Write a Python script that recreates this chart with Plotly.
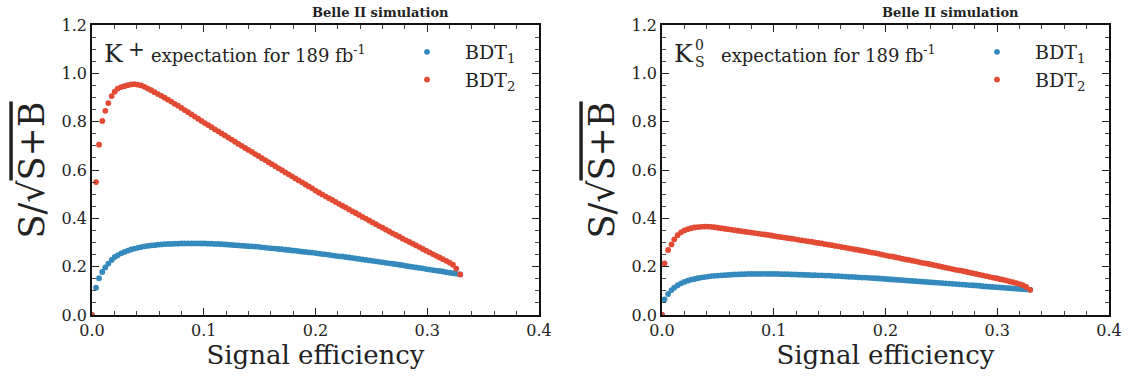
import plotly.graph_objects as go

# ---------------- data ----------------
EFF_KP = [0.0, 0.0036, 0.0063, 0.0092, 0.0119, 0.0146, 0.0176, 0.0203,
          0.023, 0.026, 0.029, 0.032, 0.035, 0.038, 0.041, 0.044, 0.047, 0.050,
          0.053, 0.056, 0.059, 0.062, 0.065, 0.068, 0.071, 0.074, 0.077, 0.080,
          0.083, 0.086, 0.089, 0.092, 0.095, 0.098, 0.101, 0.104, 0.107, 0.110,
          0.113, 0.116, 0.119, 0.122, 0.125, 0.128, 0.131, 0.134, 0.137, 0.140,
          0.143, 0.146, 0.149, 0.152, 0.155, 0.158, 0.161, 0.164, 0.167, 0.170,
          0.173, 0.176, 0.179, 0.182, 0.185, 0.188, 0.191, 0.194, 0.197, 0.200,
          0.203, 0.206, 0.209, 0.212, 0.215, 0.218, 0.221, 0.224, 0.227, 0.230,
          0.233, 0.236, 0.239, 0.242, 0.245, 0.248, 0.251, 0.254, 0.257, 0.260,
          0.263, 0.266, 0.269, 0.272, 0.275, 0.278, 0.281, 0.284, 0.287, 0.290,
          0.293, 0.296, 0.299, 0.302, 0.305, 0.308, 0.311, 0.314, 0.317, 0.320,
          0.323, 0.326, 0.3295]

KP_BDT1 = [0.0, 0.113, 0.152, 0.178, 0.197, 0.213, 0.228, 0.240,
           0.247, 0.255, 0.261, 0.266, 0.271, 0.275, 0.278, 0.281, 0.284, 0.286,
           0.288, 0.289, 0.291, 0.292, 0.293, 0.294, 0.294, 0.295, 0.295, 0.296,
           0.296, 0.296, 0.296, 0.296, 0.296, 0.296, 0.296, 0.295, 0.295, 0.294,
           0.294, 0.293, 0.292, 0.291, 0.290, 0.289, 0.288, 0.287, 0.286, 0.285,
           0.284, 0.283, 0.282, 0.280, 0.279, 0.277, 0.276, 0.275, 0.273, 0.272,
           0.270, 0.269, 0.267, 0.266, 0.264, 0.262, 0.261, 0.259, 0.258, 0.256,
           0.254, 0.252, 0.251, 0.249, 0.247, 0.245, 0.243, 0.242, 0.240, 0.238,
           0.236, 0.234, 0.232, 0.230, 0.228, 0.226, 0.224, 0.222, 0.220, 0.218,
           0.216, 0.214, 0.212, 0.210, 0.208, 0.206, 0.203, 0.201, 0.199, 0.197,
           0.195, 0.193, 0.190, 0.188, 0.186, 0.184, 0.182, 0.180, 0.177, 0.175,
           0.173, 0.171, 0.168]

KP_BDT2 = [0.0, 0.550, 0.705, 0.803, 0.845, 0.877, 0.906, 0.924,
           0.937, 0.943, 0.947, 0.951, 0.954, 0.955, 0.953, 0.950, 0.944, 0.937,
           0.930, 0.922, 0.914, 0.907, 0.899, 0.891, 0.883, 0.874, 0.866, 0.857,
           0.848, 0.839, 0.830, 0.821, 0.812, 0.803, 0.794, 0.786, 0.777, 0.768,
           0.760, 0.751, 0.743, 0.734, 0.726, 0.717, 0.708, 0.700, 0.691, 0.683,
           0.675, 0.666, 0.658, 0.649, 0.641, 0.632, 0.624, 0.616, 0.607, 0.599,
           0.590, 0.582, 0.574, 0.565, 0.557, 0.549, 0.540, 0.532, 0.524, 0.515,
           0.507, 0.499, 0.491, 0.483, 0.476, 0.468, 0.460, 0.452, 0.445, 0.437,
           0.429, 0.422, 0.414, 0.406, 0.399, 0.391, 0.383, 0.376, 0.368, 0.361,
           0.353, 0.346, 0.338, 0.331, 0.324, 0.316, 0.309, 0.302, 0.295, 0.288,
           0.281, 0.273, 0.266, 0.259, 0.252, 0.245, 0.238, 0.231, 0.224, 0.217,
           0.208, 0.192, 0.168]

EFF_KS = [0.0, 0.0023, 0.0055, 0.0085, 0.011, 0.014, 0.017, 0.020,
          0.023, 0.026, 0.029, 0.032, 0.035, 0.038, 0.041, 0.044, 0.047, 0.050,
          0.053, 0.056, 0.059, 0.062, 0.065, 0.068, 0.071, 0.074, 0.077, 0.080,
          0.083, 0.086, 0.089, 0.092, 0.095, 0.098, 0.101, 0.104, 0.107, 0.110,
          0.113, 0.116, 0.119, 0.122, 0.125, 0.128, 0.131, 0.134, 0.137, 0.140,
          0.143, 0.146, 0.149, 0.152, 0.155, 0.158, 0.161, 0.164, 0.167, 0.170,
          0.173, 0.176, 0.179, 0.182, 0.185, 0.188, 0.191, 0.194, 0.197, 0.200,
          0.203, 0.206, 0.209, 0.212, 0.215, 0.218, 0.221, 0.224, 0.227, 0.230,
          0.233, 0.236, 0.239, 0.242, 0.245, 0.248, 0.251, 0.254, 0.257, 0.260,
          0.263, 0.266, 0.269, 0.272, 0.275, 0.278, 0.281, 0.284, 0.287, 0.290,
          0.293, 0.296, 0.299, 0.302, 0.305, 0.308, 0.311, 0.314, 0.317, 0.320,
          0.323, 0.326, 0.3295]

KS_BDT1 = [0.0, 0.065, 0.087, 0.103, 0.113, 0.123, 0.131, 0.137,
           0.142, 0.146, 0.149, 0.152, 0.155, 0.157, 0.159, 0.161, 0.162, 0.163,
           0.164, 0.165, 0.166, 0.167, 0.168, 0.168, 0.169, 0.169, 0.170, 0.170,
           0.170, 0.170, 0.170, 0.170, 0.170, 0.170, 0.170, 0.170, 0.169, 0.169,
           0.169, 0.168, 0.168, 0.167, 0.167, 0.166, 0.166, 0.165, 0.165, 0.164,
           0.164, 0.163, 0.163, 0.162, 0.161, 0.161, 0.160, 0.159, 0.158, 0.158,
           0.157, 0.156, 0.155, 0.155, 0.154, 0.153, 0.152, 0.151, 0.150, 0.149,
           0.148, 0.147, 0.146, 0.145, 0.144, 0.143, 0.142, 0.141, 0.140, 0.139,
           0.138, 0.137, 0.136, 0.135, 0.134, 0.133, 0.132, 0.131, 0.130, 0.129,
           0.128, 0.127, 0.126, 0.125, 0.124, 0.123, 0.122, 0.121, 0.119, 0.118,
           0.117, 0.116, 0.115, 0.114, 0.113, 0.112, 0.111, 0.110, 0.109, 0.108,
           0.107, 0.106, 0.104]

KS_BDT2 = [0.0, 0.214, 0.269, 0.292, 0.313, 0.330, 0.342, 0.350,
           0.355, 0.359, 0.362, 0.364, 0.365, 0.366, 0.366, 0.365, 0.363, 0.361,
           0.359, 0.357, 0.355, 0.353, 0.351, 0.349, 0.347, 0.345, 0.343, 0.341,
           0.339, 0.337, 0.335, 0.333, 0.331, 0.329, 0.326, 0.324, 0.322, 0.320,
           0.318, 0.316, 0.314, 0.311, 0.309, 0.307, 0.305, 0.303, 0.300, 0.298,
           0.296, 0.293, 0.291, 0.289, 0.286, 0.284, 0.281, 0.279, 0.276, 0.274,
           0.271, 0.269, 0.266, 0.264, 0.261, 0.258, 0.256, 0.253, 0.250, 0.247,
           0.244, 0.242, 0.239, 0.236, 0.233, 0.230, 0.228, 0.225, 0.222, 0.219,
           0.216, 0.214, 0.211, 0.208, 0.205, 0.202, 0.199, 0.196, 0.193, 0.190,
           0.187, 0.185, 0.182, 0.179, 0.176, 0.173, 0.170, 0.167, 0.164, 0.161,
           0.158, 0.155, 0.152, 0.149, 0.146, 0.143, 0.139, 0.136, 0.132, 0.128,
           0.123, 0.116, 0.104]

SERIES_NAMES = ["BDT<sub>1</sub>", "BDT<sub>2</sub>"]
X_TICKS = [0.0, 0.1, 0.2, 0.3, 0.4]
Y_TICKS = [0.0, 0.2, 0.4, 0.6, 0.8, 1.0, 1.2]

for a, b in [(EFF_KP, KP_BDT1), (EFF_KP, KP_BDT2), (EFF_KS, KS_BDT1), (EFF_KS, KS_BDT2)]:
    assert len(a) == len(b), (len(a), len(b))

# ---------------- style ----------------
BLUE = "#348ABD"
RED = "#E24A33"
FONT = "DejaVu Serif"
W, H = 1128, 382
ML, MT, MB = 0, 25, 67
L1, R1 = 92, 539
L2, R2 = 662, 1109
PAD = "\u00a0\u00a0\u00a0"

fig = go.Figure()
panels = [("x", "y", "legend", EFF_KP, KP_BDT1, KP_BDT2),
          ("x2", "y2", "legend2", EFF_KS, KS_BDT1, KS_BDT2)]
for xa, ya, lg, eff, b1, b2 in panels:
    for vals, col, name in [(b1, BLUE, SERIES_NAMES[0]), (b2, RED, SERIES_NAMES[1])]:
        fig.add_trace(go.Scatter(
            x=eff, y=vals, mode="markers", name=PAD + name, xaxis=xa, yaxis=ya,
            legend=lg, marker=dict(color=col, size=5.8, line=dict(width=0)),
        ))

tickfont = dict(family=FONT, size=16, color="#222")
def xaxis(dom):
    return dict(domain=dom, range=[0, 0.4], tickvals=X_TICKS, tickformat=".1f",
                ticks="inside", ticklen=7, tickwidth=1.2, tickcolor="#222",
                mirror="allticks", showline=True, linecolor="#111", linewidth=1.6,
                showgrid=False, zeroline=False, tickfont=tickfont, automargin=False,
                minor=dict(dtick=0.02, ticks="inside", ticklen=4, tickwidth=1, tickcolor="#444"),
                title=dict(text="Signal efficiency", font=dict(family=FONT, size=26, color="#222"),
                           standoff=6),
                fixedrange=True)

def yaxis(anchor):
    return dict(domain=[0, 1], range=[0, 1.2], tickvals=Y_TICKS, tickformat=".1f",
                anchor=anchor, automargin=False,
                ticks="inside", ticklen=7, tickwidth=1.2, tickcolor="#222",
                mirror="allticks", showline=True, linecolor="#111", linewidth=1.6,
                showgrid=False, zeroline=False, tickfont=tickfont,
                minor=dict(dtick=0.05, ticks="inside", ticklen=4, tickwidth=1, tickcolor="#444"),
                title=dict(text="S/√<span style='text-decoration:overline'>S+B</span>",
                           font=dict(family=FONT, size=35, color="#222"), standoff=6),
                fixedrange=True)

def legend(x):
    return dict(x=x, y=(315 - 33) / 290, xref="paper", yref="paper", xanchor="left", yanchor="top",
                bgcolor="rgba(0,0,0,0)", font=dict(family=FONT, size=19, color="#222"),
                itemwidth=30, tracegroupgap=0)

fig.update_layout(
    width=W, height=H, margin=dict(l=ML, r=0, t=MT, b=MB, autoexpand=False),
    paper_bgcolor="white", plot_bgcolor="white", showlegend=True,
    font=dict(family=FONT),
    xaxis=xaxis([L1 / W, R1 / W]), yaxis=yaxis("x"),
    xaxis2=xaxis([L2 / W, R2 / W]), yaxis2=yaxis("x2"),
    legend=legend((L1 + 315) / W), legend2=legend((L2 + 315) / W),
)
fig.update_layout(xaxis2=dict(anchor="y2"))

def note(text, px, py, ref, size, anchor="left"):
    xr, yr = ref
    return dict(text=text, x=px / 447, y=(315 - py) / 290, xref=xr, yref=yr, showarrow=False,
                font=dict(family=FONT, size=size, color="#222"), xanchor=anchor, yanchor="middle")

P1 = ("x domain", "y domain")
P2 = ("x2 domain", "y2 domain")
ann = []
for ref in (P1, P2):
    ann.append(note("<b>Belle II simulation</b>", 0.6465 * 447, 12, ref, 13, "center"))
# left panel: K+ expectation ...
ann.append(note("K", 10, 54, P1, 25))
ann.append(note("+", 34, 49, P1, 20))
ann.append(note("expectation for 189 fb<sup>-1</sup>", 57, 54, P1, 18))
# right panel: K0S expectation ...
ann.append(note("K", 10, 54, P2, 25))
ann.append(note("0", 31, 45, P2, 14))
ann.append(note("S", 31, 62, P2, 14))
ann.append(note("expectation for 189 fb<sup>-1</sup>", 57, 54, P2, 18))
fig.update_layout(annotations=ann)

fig.write_html("out.html")
